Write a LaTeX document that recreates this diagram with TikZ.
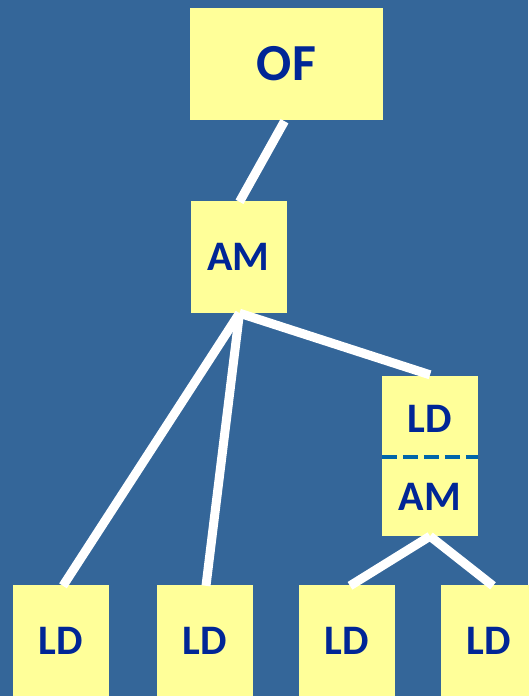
\documentclass[tikz,border=0pt]{standalone}
\usepackage{fontspec}
\setmainfont{Carlito}
\definecolor{bgblue}{RGB}{52,102,153}
\definecolor{boxyellow}{RGB}{255,255,153}
\definecolor{txtblue}{RGB}{0,38,150}
\definecolor{dashblue}{RGB}{0,102,170}
\begin{document}
\begin{tikzpicture}[x=1pt,y=-1pt,
  box/.style={fill=boxyellow, draw=none, inner sep=0pt, text=txtblue,
    font=\fontsize{42}{50}\selectfont\bfseries},
  smallbox/.style={box, minimum width=96pt, minimum height=112pt},
  lbl/.style={inner sep=0pt, text=txtblue, font=\fontsize{42}{50}\selectfont\bfseries},
  conn/.style={draw=white, line width=9pt},
  divider/.style={draw=dashblue, line width=4.5pt, dash pattern=on 15pt off 6pt}]
\fill[bgblue] (0,0) rectangle (528,696);
\useasboundingbox (0,0) rectangle (528,696);
% boxes
\node[box, minimum width=193pt, minimum height=112pt,
  font=\fontsize{52}{62}\selectfont\bfseries] (of) at (286.5,64) {OF};
\node[smallbox] (am) at (238.5,257) {AM};
\node[box, minimum width=96pt, minimum height=160pt] (ldam) at (430,456) {};
\node[lbl] (ldamtop) at (430,419) {LD};
\node[lbl] (ldambot) at (430,497) {AM};
\node[smallbox] (ld1) at (61,641) {LD};
\node[smallbox] (ld2) at (204.5,641) {LD};
\node[smallbox] (ld3) at (347,641) {LD};
\node[smallbox] (ld4) at (489,641) {LD};
% divider
\draw[divider] ([yshift=-1pt]ldam.west) -- ([yshift=-1pt]ldam.east);
% connectors
\draw[conn] ([xshift=-2pt,yshift=-1pt]of.south) -- ([xshift=1pt,yshift=-1pt]am.north);
\draw[conn] ([xshift=1pt]am.south) -- ([xshift=2pt,yshift=-1pt]ld1.north);
\draw[conn] ([xshift=1pt]am.south) -- ([xshift=1.5pt,yshift=-1pt]ld2.north);
\draw[conn] ([xshift=1pt]am.south) -- ([yshift=1pt]ldam.north);
\draw[conn] (ldam.south) -- ([xshift=3pt,yshift=-1pt]ld3.north);
\draw[conn] (ldam.south) -- ([xshift=4pt,yshift=-1pt]ld4.north);
\end{tikzpicture}
\end{document}
